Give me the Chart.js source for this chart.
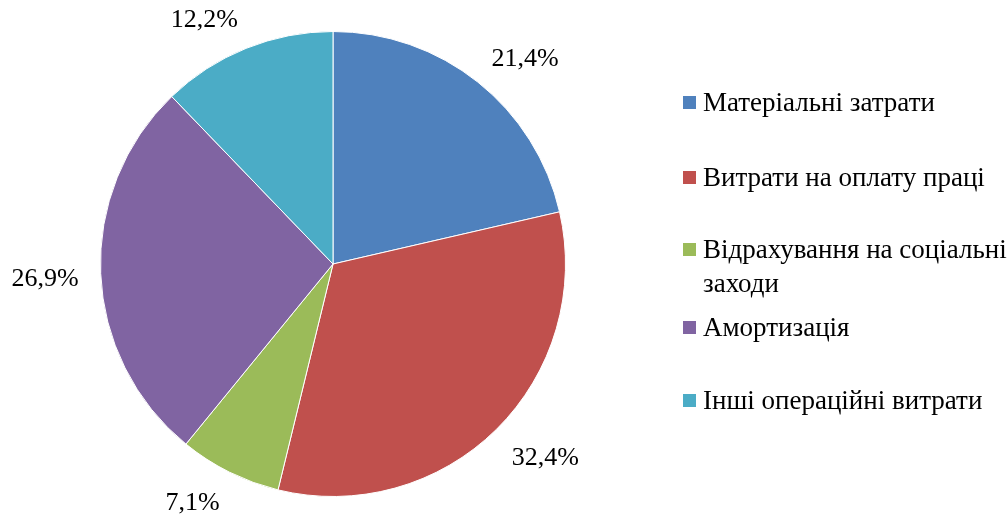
<!DOCTYPE html>
<html>
<head>
<meta charset="utf-8">
<script src="https://cdn.jsdelivr.net/npm/chart.js@4"></script>
<style>
  body { margin: 0; background: #fff; overflow: hidden; }
  #wrap { position: relative; width: 1008px; height: 515px; overflow: hidden; }
  #legend { position: absolute; left: 683px; top: 0; width: 345px; font-family: "Liberation Serif", "Times New Roman", serif; font-size: 27px; color: #000; }
  .item { position: absolute; left: 0; display: flex; align-items: flex-start; line-height: 34px; white-space: normal; }
  .box { width: 13px; height: 13px; margin-top: 11px; margin-right: 7px; flex: none; }
  .txt { width: 318px; }
</style>
</head>
<body>
<div id="wrap">
  <canvas id="pieChart" width="1008" height="515"></canvas>
  <div id="legend"></div>
</div>
<script>
// Cost structure pie
const categories = ['Матеріальні затрати', 'Витрати на оплату праці', 'Відрахування на соціальні заходи', 'Амортизація', 'Інші операційні витрати'];
const shares = [21.4, 32.4, 7.1, 26.9, 12.2];
const colors = ['#4F81BD', '#C0504D', '#9BBB59', '#8064A2', '#4BACC6'];

// legend item tops (px)
const legendTops = [85, 160, 232, 310, 383];
const legend = document.getElementById('legend');
categories.forEach((c, i) => {
    const div = document.createElement('div');
    div.className = 'item';
    div.style.top = legendTops[i] + 'px';
    div.innerHTML = '<span class="box" style="background:' + colors[i] + '"></span><span class="txt">' + c + '</span>';
    legend.appendChild(div);
});

// percent labels outside the slices
const outsideLabels = {
    id: 'outsideLabels',
    afterDatasetsDraw(chart) {
        const ctx = chart.ctx;
        const meta = chart.getDatasetMeta(0);
        ctx.save();
        ctx.font = '26px "Liberation Serif", "Times New Roman", serif';
        ctx.fillStyle = '#000';
        ctx.textAlign = 'center';
        ctx.textBaseline = 'middle';
        meta.data.forEach((arc, i) => {
            const p = arc.getProps(['x', 'y', 'startAngle', 'endAngle', 'outerRadius'], true);
            const mid = (p.startAngle + p.endAngle) / 2;
            const dx = Math.cos(mid), dy = Math.sin(mid);
            const text = shares[i].toFixed(1).replace('.', ',') + '%';
            const w = ctx.measureText(text).width;
            const r = p.outerRadius + 22;
            const x = p.x + r * dx + (w / 2) * Math.sign(dx);
            const y = p.y + r * dy + 13 * dy + (dy < 0.8 ? 4 : 0);
            ctx.fillText(text, x, y);
        });
        ctx.restore();
    }
};

const ctx = document.getElementById('pieChart').getContext('2d');
new Chart(ctx, {
    type: 'pie',
    data: {
        labels: categories,
        datasets: [{
            data: shares,
            backgroundColor: colors,
            borderColor: '#ffffff',
            borderWidth: 1
        }]
    },
    options: {
        responsive: false,
        animation: false,
        layout: { padding: { left: 100, right: 442, top: 31, bottom: 18 } },
        plugins: {
            legend: { display: false },
            tooltip: { enabled: false }
        }
    },
    plugins: [outsideLabels]
});
</script>
</body>
</html>
